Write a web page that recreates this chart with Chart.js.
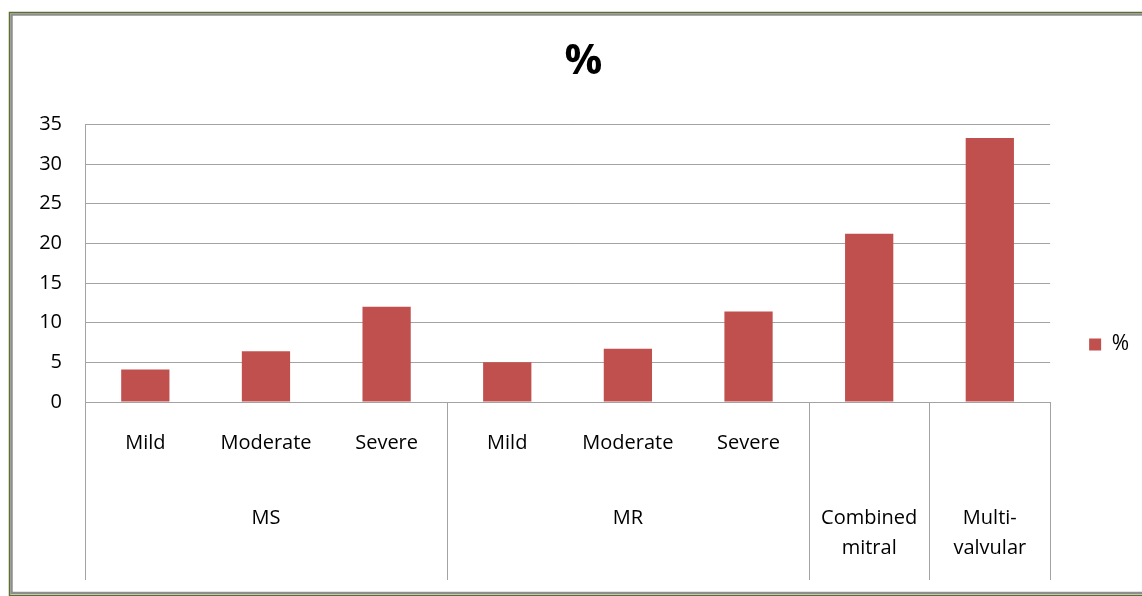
<!DOCTYPE html>
<html>
<head>
<meta charset="utf-8">
<script src="https://cdn.jsdelivr.net/npm/chart.js@4.4.1/dist/chart.umd.min.js"></script>
<style>
  html, body { margin: 0; padding: 0; background: #fff; }
  #wrap { width: 1142px; height: 596px; }
</style>
</head>
<body>
<div id="wrap"><canvas id="chart" width="1142" height="596"></canvas></div>
<script>
// Severity level for each bar (inner axis row)
const severityLabels = ['Mild', 'Moderate', 'Severe', 'Mild', 'Moderate', 'Severe', '', ''];
// Lesion groups (outer axis row) and how many bars each one spans
const groupNames = ['MS', 'MR', ['Combined', 'mitral'], ['Multi-', 'valvular']];
const groupSizes = [3, 3, 1, 1];
// Percentage of patients per category
const percentValues = [4.1, 6.4, 12.0, 5.0, 6.7, 11.4, 21.2, 33.3];
const seriesName = '%';
// Value axis range
const yMin = 0, yMax = 35, yStep = 5;

// Outer row labels: each group name sits under the middle bar of its span
const groupTickLabels = [];
groupSizes.forEach((n, g) => {
  for (let i = 0; i < n; i++) groupTickLabels.push(i === Math.floor(n / 2) ? groupNames[g] : '');
});

const FONT = 'Open Sans';
const GRID = '#a3a3a3';

// Double frame (olive outer line, grey inner line) around the whole chart
const chartFrame = {
  id: 'chartFrame',
  beforeDraw(chart) {
    const { ctx, width } = chart;
    ctx.save();
    ctx.fillStyle = '#fff';
    ctx.fillRect(0, 0, width, chart.height);
    ctx.strokeStyle = '#5b6f2e';
    ctx.lineWidth = 1.5;
    ctx.beginPath();
    ctx.moveTo(width + 5, 12.5); ctx.lineTo(9.5, 12.5); ctx.lineTo(9.5, 595.5); ctx.lineTo(width + 5, 595.5);
    ctx.stroke();
    ctx.strokeStyle = '#8e8e8e';
    ctx.lineWidth = 2.5;
    ctx.beginPath();
    ctx.moveTo(width + 5, 14.5); ctx.lineTo(11.5, 14.5); ctx.lineTo(11.5, 593); ctx.lineTo(width + 5, 593);
    ctx.stroke();
    ctx.restore();
  }
};

// Vertical separators between lesion groups across both label rows
const groupDividers = {
  id: 'groupDividers',
  afterDraw(chart) {
    const x = chart.scales.x, x2 = chart.scales.x2, ctx = chart.ctx;
    const step = x.getPixelForValue(1) - x.getPixelForValue(0);
    const edges = [0];
    let idx = 0;
    groupSizes.forEach(n => { idx += n; edges.push(idx); });
    ctx.save();
    ctx.strokeStyle = GRID;
    ctx.lineWidth = 1;
    edges.forEach(i => {
      const px = Math.round(x.getPixelForValue(i) - step / 2) + 0.5;
      ctx.beginPath();
      ctx.moveTo(px, x.top);
      ctx.lineTo(px, x2.bottom);
      ctx.stroke();
    });
    ctx.restore();
  }
};

// Keep the legend beside the lower part of the plot
const legendPlacement = {
  id: 'legendPlacement',
  afterLayout(chart) {
    const lg = chart.legend;
    const h = 40;
    const cy = chart.chartArea.top + 220;
    lg.top = cy - h / 2;
    lg.bottom = cy + h / 2;
    lg.height = h;
  }
};

new Chart(document.getElementById('chart'), {
  type: 'bar',
  data: {
    labels: severityLabels,
    datasets: [{
      label: seriesName,
      data: percentValues,
      backgroundColor: '#c0504d',
      borderWidth: 0,
      barPercentage: 0.5,
      categoryPercentage: 0.8
    }]
  },
  options: {
    responsive: false,
    devicePixelRatio: 1,
    animation: false,
    layout: { padding: { top: 12, left: 28, right: 3, bottom: 16 } },
    plugins: {
      title: {
        display: true,
        text: seriesName,
        color: '#000',
        font: { family: FONT, size: 42, weight: 'bold' },
        padding: { top: 25, bottom: 37 }
      },
      legend: {
        position: 'right',
        labels: {
          boxWidth: 12,
          boxHeight: 12,
          padding: 39,
          color: '#000',
          font: { family: FONT, size: 21 }
        }
      },
      tooltip: { enabled: false }
    },
    scales: {
      x: {
        type: 'category',
        position: 'bottom',
        weight: 0,
        grid: { display: false, drawTicks: false },
        border: { display: true, color: GRID, width: 1 },
        ticks: {
          color: '#000',
          font: { family: FONT, size: 20 },
          padding: 29,
          maxRotation: 0,
          autoSkip: false
        },
        afterFit(s) { s.height = 68; }
      },
      x2: {
        type: 'category',
        labels: groupTickLabels,
        position: 'bottom',
        weight: 1,
        offset: true,
        grid: { display: false, drawTicks: false },
        border: { display: false },
        ticks: {
          color: '#000',
          font: { family: FONT, size: 20, lineHeight: 1.5 },
          padding: 33,
          maxRotation: 0,
          autoSkip: false
        },
        afterFit(s) { s.height = 110; }
      },
      y: {
        min: yMin,
        max: yMax,
        grid: { color: GRID, drawTicks: false, lineWidth: 1 },
        border: { display: true, color: GRID, width: 1 },
        ticks: {
          stepSize: yStep,
          color: '#000',
          font: { family: FONT, size: 20 },
          padding: 23
        },
        afterFit(s) { s.width = 57; }
      }
    }
  },
  plugins: [chartFrame, groupDividers, legendPlacement]
});
</script>
</body>
</html>
